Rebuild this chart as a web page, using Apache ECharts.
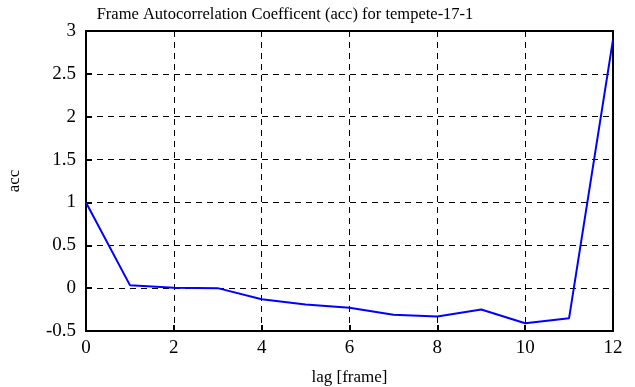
<!DOCTYPE html>
<html>
<head>
<meta charset="utf-8">
<script src="https://cdn.jsdelivr.net/npm/echarts@6/dist/echarts.min.js"></script>
<style>
  html, body { margin: 0; padding: 0; background: #fff; }
  #chart { width: 635px; height: 387px; }
</style>
</head>
<body>
<div id="chart"></div>
<script>
const lags = [0, 1, 2, 3, 4, 5, 6, 7, 8, 9, 10, 11, 12]
const acc = [1.0, 0.035, 0.005, 0.0, -0.13, -0.19, -0.23, -0.31, -0.33, -0.25, -0.41, -0.35, 2.9]

const myChart = echarts.init(document.getElementById('chart'))
const font = 'Liberation Serif'

const option = {
  animation: false,
  title: {
    text: 'Frame Autocorrelation Coefficent (acc) for tempete-17-1',
    left: 280,
    top: 1,
    textAlign: 'center',
    textStyle: { fontFamily: font, fontSize: 16.5, fontWeight: 'normal', color: '#000' },
  },
  grid: {
    left: 86, right: 22, top: 31, bottom: 56,
    outerBoundsMode: 'none',
    show: true,
    borderColor: '#000',
    borderWidth: 2,
  },
  xAxis: {
    type: 'value',
    min: 0,
    max: 12,
    interval: 2,
    name: 'lag [frame]',
    nameLocation: 'middle',
    nameGap: 38,
    nameTextStyle: { fontFamily: font, fontSize: 17, color: '#000' },
    axisLine: { onZero: false, lineStyle: { color: '#000', width: 2 } },
    axisTick: { inside: true, length: 6, lineStyle: { color: '#000', width: 2 } },
    axisLabel: { fontFamily: font, fontSize: 19, color: '#000', margin: 8 },
    splitLine: { show: true, lineStyle: { color: '#000', type: [6, 5], width: 1 } },
  },
  yAxis: {
    type: 'value',
    min: -0.5,
    max: 3,
    interval: 0.5,
    name: 'acc',
    nameLocation: 'middle',
    nameGap: 63,
    nameRotate: 90,
    nameTextStyle: { fontFamily: font, fontSize: 17, color: '#000' },
    axisLine: { show: true, onZero: false, lineStyle: { color: '#000', width: 2 } },
    axisTick: { show: true, inside: true, length: 6, lineStyle: { color: '#000', width: 2 } },
    axisLabel: { fontFamily: font, fontSize: 19, color: '#000', margin: 10 },
    splitLine: { show: true, lineStyle: { color: '#000', type: [6, 5], width: 1 } },
  },
  series: [
    {
      type: 'line',
      data: lags.map((x, i) => [x, acc[i]]),
      symbol: 'none',
      lineStyle: { color: '#0000ff', width: 2 },
    },
  ],
}

myChart.setOption(option)
</script>
</body>
</html>
